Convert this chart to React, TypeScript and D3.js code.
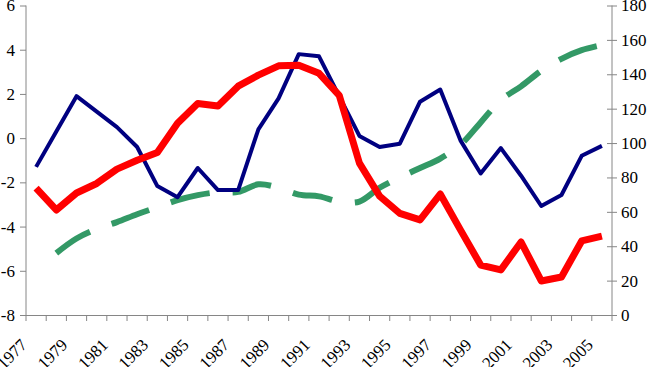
import React from 'react';
import * as d3 from 'd3';

const years = d3.range(1977, 2006);
const yearLabels = years.filter((y, i) => i % 2 === 0);

// left axis
const navySeries = [
  -1.3, 0.3, 1.9, 1.2, 0.5, -0.4, -2.17, -2.67, -1.35, -2.35, -2.35, 0.4, 1.8, 3.8, 3.7,
  1.9, 0.1, -0.4, -0.25, 1.65, 2.2, -0.1, -1.6, -0.45, -1.7, -3.07, -2.57, -0.8, -0.35,
];
const redSeries = [
  -2.26, -3.25, -2.48, -2.05, -1.4, -1.0, -0.65, 0.67, 1.57, 1.45, 2.35, 2.85, 3.27, 3.3, 2.93,
  1.94, -1.13, -2.62, -3.4, -3.7, -2.53, -4.15, -5.74, -5.96, -4.7, -6.46, -6.28, -4.65, -4.43,
];
// right axis
const greenSeries = [
  null, 36, 44.5, 50, 54, 58.6, 62.7, 66.8, 69.7, 71.4, 71.6, 76, 74, 70, 69,
  66, 66, 74, 80, 85.5, 91, 99, 112, 125, 133, 142, 149, 154, 157,
];

const leftTicks = [-8, -6, -4, -2, 0, 2, 4, 6];
const rightTicks = [0, 20, 40, 60, 80, 100, 120, 140, 160, 180];

const W = 649;
const H = 367;
const font = 'Liberation Serif';
const axisColor = '#868686';

const x = d3.scaleBand<number>().domain(years).range([26, 612]).padding(0);
const yL = d3.scaleLinear().domain([-8, 6]).range([315, 5.5]);
const yR = d3.scaleLinear().domain([0, 180]).range([315, 5.5]);
const cx = (y: number) => (x(y) as number) + x.bandwidth() / 2;

const lineL = d3.line<number>().x((d, i) => cx(years[i])).y(d => yL(d));
const lineR = d3.line<number | null>()
  .defined(d => d !== null)
  .x((d, i) => cx(years[i])).y(d => yR(d as number))
  .curve(d3.curveCatmullRom.alpha(0.5));

const App = () => {
  const bw = x.bandwidth();
  return (
    <svg width={W} height={H} fontFamily={font}
      style={{ position: 'absolute', left: 0, top: 0, background: '#fff' }}>
      {/* axis lines */}
      <line x1={26} x2={26} y1={yL(6)} y2={yL(-8)} stroke={axisColor} />
      <line x1={612} x2={612} y1={yR(180)} y2={yR(0)} stroke={axisColor} />
      <line x1={26} x2={612} y1={315.5} y2={315.5} stroke={axisColor} />

      {leftTicks.map(t => (
        <g key={'l' + t}>
          <line x1={20} x2={26} y1={yL(t) + 0.5} y2={yL(t) + 0.5} stroke={axisColor} />
          <text x={15} y={yL(t)} dy="0.35em" textAnchor="end" fontFamily={font} fontSize={17}>{t}</text>
        </g>
      ))}

      {rightTicks.map(t => (
        <g key={'r' + t}>
          <line x1={607} x2={617} y1={yR(t) + 0.5} y2={yR(t) + 0.5} stroke={axisColor} />
          <text x={621} y={yR(t)} dy="0.35em" textAnchor="start" fontFamily={font} fontSize={17}>{t}</text>
        </g>
      ))}

      {/* ticks between categories */}
      {years.concat([2006]).map((yr, i) => (
        <line key={'x' + yr} x1={26 + i * bw} x2={26 + i * bw} y1={315} y2={321} stroke={axisColor} />
      ))}
      {yearLabels.map(yr => (
        <text key={'t' + yr} transform={`translate(${cx(yr) - 8},346) rotate(-45)`}
          textAnchor="end" fontFamily={font} fontSize={17}>{yr}</text>
      ))}

      {/* series */}
      <path d={lineR(greenSeries) || ''} fill="none" stroke="#339966" strokeWidth={6}
        strokeDasharray="40,23" />
      <path d={lineL(navySeries) || ''} fill="none" stroke="#000080" strokeWidth={4}
        strokeLinejoin="round" />
      <path d={lineL(redSeries) || ''} fill="none" stroke="#ff0000" strokeWidth={7}
        strokeLinejoin="round" />
    </svg>
  );
};

export default App;
